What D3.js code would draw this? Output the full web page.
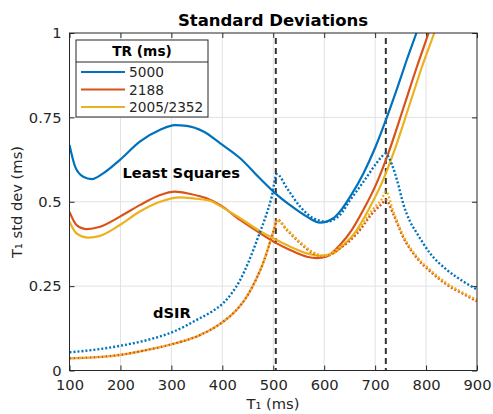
<!DOCTYPE html>
<html><head><meta charset="utf-8">
<script src="https://cdn.jsdelivr.net/npm/d3@7"></script>
<style>
html,body{margin:0;padding:0;background:#fff;}
svg{display:block;font-family:"DejaVu Sans",sans-serif;}
</style></head>
<body>
<svg id="chart" width="493" height="414"></svg>
<script>
// ---- data ----
const xTicks = [100,200,300,400,500,600,700,800,900];
const yTicks = [0,0.25,0.5,0.75,1];
const yTickLabels = ["0","0.25","0.5","0.75","1"];
const legendTitle = "TR (ms)";
const seriesNames = ["5000","2188","2005/2352"];
const seriesColors = ["#0072BD","#D95319","#EDB120"];
const markerLines = [505, 721];

// Least squares (solid)
const ls5000T = [100,111,127,144,166,199,238,278,307,330,363,396,435,474,504,533,566,592,618,631,651,677,700,723,743,762,781,792];
const ls5000V = [0.668,0.604,0.574,0.567,0.584,0.624,0.678,0.713,0.727,0.725,0.708,0.673,0.629,0.569,0.525,0.490,0.456,0.438,0.451,0.471,0.515,0.584,0.660,0.750,0.835,0.920,1.0,1.05];
const ls2188T = [100,114,134,160,199,238,278,307,337,369,396,435,474,504,533,566,585,605,631,654,677,703,726,756,782,805,816];
const ls2188V = [0.470,0.431,0.419,0.426,0.456,0.490,0.520,0.530,0.523,0.510,0.490,0.446,0.407,0.379,0.357,0.337,0.333,0.338,0.372,0.416,0.476,0.555,0.644,0.780,0.900,1.0,1.05];
const ls2005T = [100,114,137,160,199,238,278,317,343,376,396,435,474,504,533,566,592,618,631,664,687,713,736,766,792,816,827];
const ls2005V = [0.441,0.406,0.394,0.399,0.431,0.471,0.500,0.513,0.510,0.503,0.487,0.451,0.413,0.389,0.367,0.347,0.340,0.347,0.362,0.416,0.476,0.555,0.644,0.780,0.900,1.0,1.05];

// dSIR (dotted)
const ds5000T = [100,147,199,252,304,356,380,402,420,435,451,471,484,497,507,527,553,579,605,631,651,677,703,712,720,733,743,756,769,782,808,841,874,900];
const ds5000V = [0.054,0.061,0.073,0.090,0.115,0.155,0.175,0.200,0.232,0.268,0.320,0.398,0.451,0.515,0.582,0.540,0.485,0.451,0.441,0.461,0.505,0.559,0.615,0.632,0.643,0.610,0.564,0.490,0.440,0.407,0.347,0.298,0.263,0.240];
const ds2188T = [100,199,252,304,356,402,423,445,464,481,494,504,507,527,553,579,600,631,664,697,712,721,736,756,782,808,841,874,900];
const ds2188V = [0.036,0.046,0.061,0.079,0.105,0.145,0.172,0.212,0.263,0.322,0.382,0.431,0.448,0.416,0.377,0.347,0.338,0.362,0.405,0.470,0.492,0.505,0.462,0.392,0.333,0.294,0.254,0.226,0.205];
const ds2005T = [100,199,252,304,356,402,423,445,464,481,494,504,507,527,553,579,600,631,664,697,712,721,736,756,782,808,841,874,900];
const ds2005V = [0.036,0.046,0.061,0.079,0.105,0.145,0.172,0.212,0.263,0.322,0.382,0.430,0.445,0.418,0.380,0.350,0.340,0.366,0.412,0.480,0.505,0.530,0.470,0.397,0.337,0.298,0.258,0.229,0.209];

// ---- layout ----
const svg = d3.select("#chart");
const L = 69.5, R = 477, T = 33, B = 370.5;
const x = d3.scaleLinear().domain([100,900]).range([L,R]);
const y = d3.scaleLinear().domain([0,1]).range([B,T]);
const axisColor = "#262626";

svg.append("defs").append("clipPath").attr("id","plotclip")
  .append("rect").attr("x",L).attr("y",T).attr("width",R-L).attr("height",B-T);

// grid
const grid = svg.append("g");
grid.selectAll(".gx").data(xTicks.slice(1,-1)).enter().append("line")
  .attr("x1",d=>x(d)).attr("x2",d=>x(d)).attr("y1",T).attr("y2",B)
  .attr("stroke","#e2e2e2").attr("stroke-width",1);
grid.selectAll(".gy").data(yTicks.slice(1,-1)).enter().append("line")
  .attr("y1",d=>y(d)).attr("y2",d=>y(d)).attr("x1",L).attr("x2",R)
  .attr("stroke","#e2e2e2").attr("stroke-width",1);

// axes (ticks inward, box)
const xAxisB = d3.axisBottom(x).tickValues(xTicks).tickSize(-5).tickPadding(9).tickFormat(d3.format("d"));
const xAxisT = d3.axisTop(x).tickValues(xTicks).tickSize(-5).tickFormat("");
const yAxisL = d3.axisLeft(y).tickValues(yTicks).tickSize(-5).tickPadding(8).tickFormat((d,i)=>yTickLabels[i]);
const yAxisR = d3.axisRight(y).tickValues(yTicks).tickSize(-5).tickFormat("");
function styleAxis(g){
  g.select(".domain").remove();
  g.selectAll("line").attr("stroke",axisColor).attr("stroke-width",1);
  g.selectAll("text").attr("fill",axisColor).style("font-size","14.7px").style("font-family","DejaVu Sans");
}
svg.append("g").attr("transform",`translate(0,${B})`).call(xAxisB).call(styleAxis);
svg.append("g").attr("transform",`translate(0,${T})`).call(xAxisT).call(styleAxis);
svg.append("g").attr("transform",`translate(${L},0)`).call(yAxisL).call(styleAxis);
svg.append("g").attr("transform",`translate(${R},0)`).call(yAxisR).call(styleAxis);

// marker dashed lines
svg.selectAll(".mk").data(markerLines).enter().append("line")
  .attr("x1",d=>x(d)).attr("x2",d=>x(d)).attr("y1",y(0.985)).attr("y2",y(0))
  .attr("stroke","#333").attr("stroke-width",2).attr("stroke-dasharray","6,4");

// curves
const line = d3.line().x(d=>x(d[0])).y(d=>y(d[1])).curve(d3.curveMonotoneX);
const plot = svg.append("g").attr("clip-path","url(#plotclip)");
const solid = [[ls5000T,ls5000V],[ls2188T,ls2188V],[ls2005T,ls2005V]];
const dotted = [[ds5000T,ds5000V],[ds2188T,ds2188V],[ds2005T,ds2005V]];
solid.forEach((s,i)=>{
  plot.append("path").datum(d3.zip(s[0],s[1])).attr("d",line)
    .attr("fill","none").attr("stroke",seriesColors[i]).attr("stroke-width",2.2)
    .attr("stroke-linejoin","round");
});
dotted.forEach((s,i)=>{
  plot.append("path").datum(d3.zip(s[0],s[1])).attr("d",line)
    .attr("fill","none").attr("stroke",seriesColors[i]).attr("stroke-width",2.4)
    .attr("stroke-dasharray","2,2").attr("stroke-dashoffset", i===2?2:0);
});

// box on top
svg.append("rect").attr("x",L).attr("y",T).attr("width",R-L).attr("height",B-T)
  .attr("fill","none").attr("stroke",axisColor).attr("stroke-width",1);

// annotations
svg.append("text").attr("x",122.5).attr("y",177.5).text("Least Squares")
  .style("font-weight","bold").style("font-size","14.7px").attr("fill","#000");
svg.append("text").attr("x",153).attr("y",318).text("dSIR")
  .style("font-weight","bold").style("font-size","14.7px").attr("fill","#000");

// title & labels
svg.append("text").attr("x",273).attr("y",25.5).attr("text-anchor","middle")
  .text("Standard Deviations").style("font-weight","bold").style("font-size","16.5px").attr("fill","#000");
svg.append("text").attr("x",273).attr("y",409).attr("text-anchor","middle")
  .text("T₁ (ms)").style("font-size","14.7px").attr("fill",axisColor);
svg.append("text").attr("transform","translate(22,202) rotate(-90)").attr("text-anchor","middle")
  .text("T₁ std dev (ms)").style("font-size","14.7px").attr("fill",axisColor);

// legend
const lg = svg.append("g");
lg.append("rect").attr("x",76).attr("y",40).attr("width",132).attr("height",77)
  .attr("fill","#fff").attr("stroke",axisColor).attr("stroke-width",1);
lg.append("line").attr("x1",76).attr("x2",208).attr("y1",62).attr("y2",62)
  .attr("stroke",axisColor).attr("stroke-width",1);
lg.append("text").attr("x",142).attr("y",56).attr("text-anchor","middle")
  .text(legendTitle).style("font-weight","bold").style("font-size","13.7px").attr("fill","#000");
const rowY = [72,89.5,107];
seriesNames.forEach((n,i)=>{
  lg.append("line").attr("x1",81).attr("x2",125).attr("y1",rowY[i]).attr("y2",rowY[i])
    .attr("stroke",seriesColors[i]).attr("stroke-width",2.2);
  lg.append("text").attr("x",129).attr("y",rowY[i]+5).text(n)
    .style("font-size","13.7px").attr("fill",axisColor);
});
</script>
</body></html>
